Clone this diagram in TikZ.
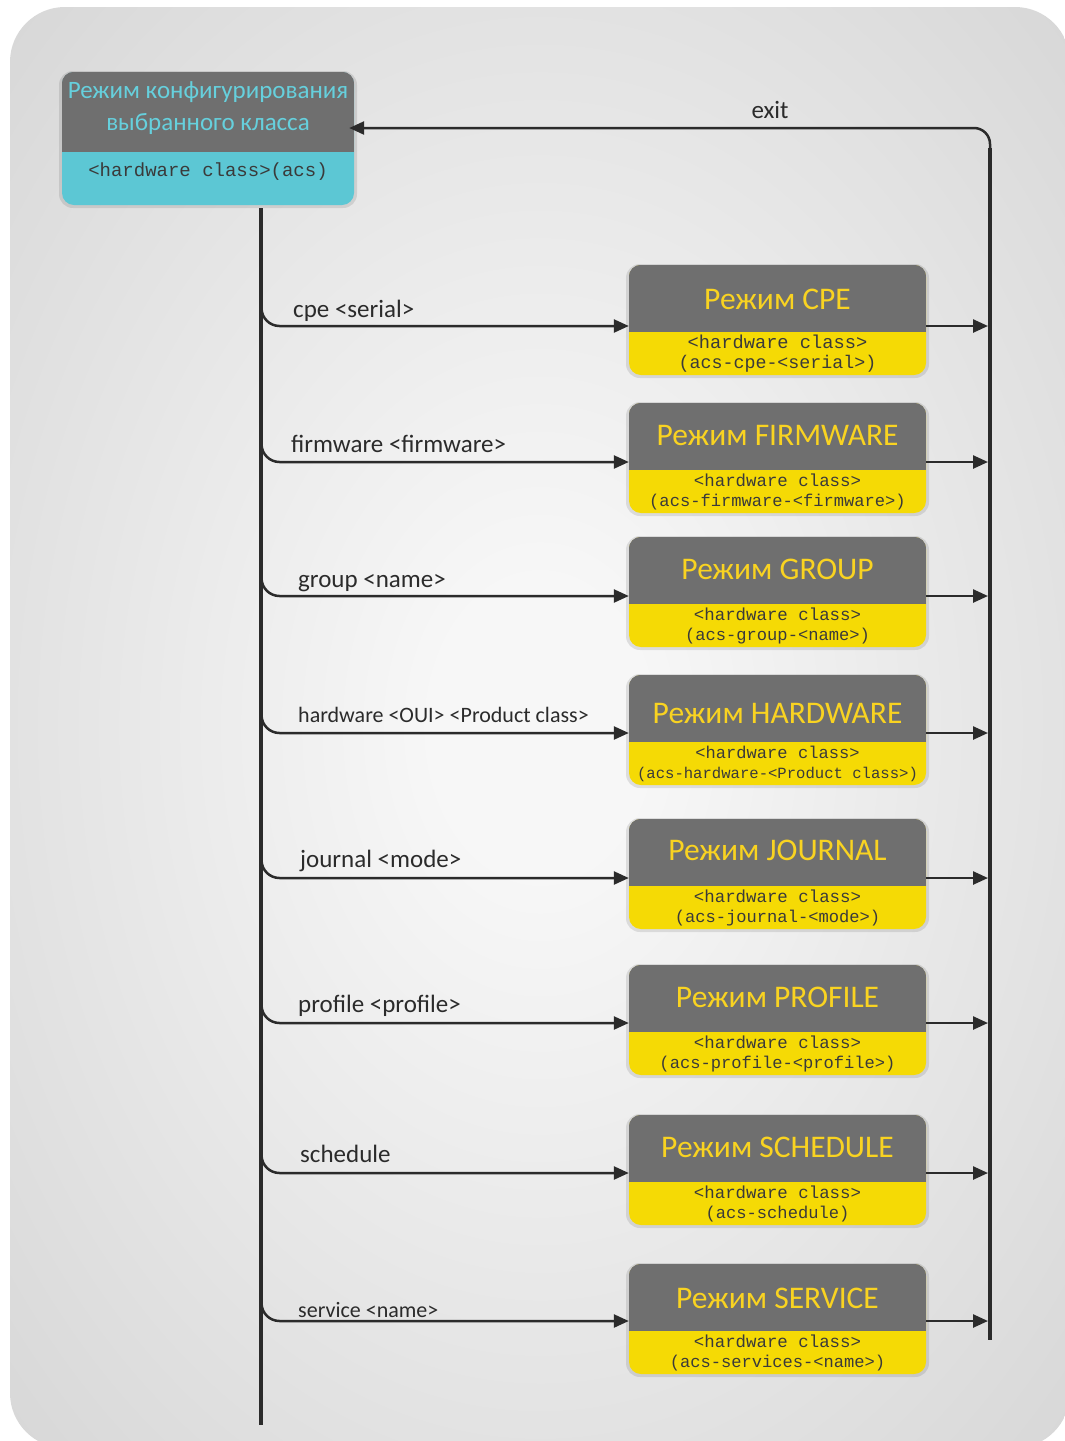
\documentclass[tikz,border=0pt]{standalone}
\usepackage{fontspec}
\setmainfont{Carlito}
\newfontfamily\monof{Liberation Mono}
\usetikzlibrary{arrows.meta}
\definecolor{bgout}{HTML}{C6C6C6}
\definecolor{bgin}{HTML}{F7F7F7}
\definecolor{boxgray}{HTML}{6F6F6F}
\definecolor{ylw}{HTML}{F5DA05}
\definecolor{ttlylw}{HTML}{F9D321}
\definecolor{cyanbox}{HTML}{5CC7D4}
\definecolor{ttlcyan}{HTML}{66D0DD}
\definecolor{ink}{HTML}{2B2B2B}
\definecolor{monoc}{HTML}{3A3A3A}
\pgfdeclareradialshading{bgshade}{\pgfpoint{0bp}{0bp}}{color(0bp)=(bgin); color(5bp)=(bgin); color(52bp)=(bgout); color(100bp)=(bgout)}
\tikzset{
  boxnode/.style={draw=none, rounded corners=12pt, inner sep=0pt},
  titletxt/.style={font=\fontsize{31.5}{36}\selectfont, text=ttlylw, inner sep=0pt},
  monotxt/.style={text=monoc, inner sep=0pt},
  lbl/.style={font=\fontsize{25}{28}\selectfont, text=ink, anchor=base west, inner sep=0pt},
  lblsmall/.style={lbl, font=\fontsize{22}{26}\selectfont},
  conn/.style={draw=ink, line width=2.5pt, -{Triangle[length=15pt,width=13pt]}},
  rail/.style={draw=ink, line width=4.5pt},
}
\newcommand\modebox[8]{%
  \fill[black,opacity=0.10,rounded corners=14pt] (626,#2-1) rectangle (929,#2+113);
  \node[boxnode, fill=ylw, minimum width=297pt, minimum height=110pt] (#1) at (777.5,#2+55) {};
  \begin{scope}
    \clip[rounded corners=12pt] (#1.south west) rectangle (#1.north east);
    \fill[boxgray] (#1.north west) rectangle ([yshift=-67pt]#1.north east);
  \end{scope}
  \node[titletxt] (#1t) at (777.5,#4) {Режим #3};
  \node[monotxt, font=\monof\fontsize{#6}{#6}\selectfont] (#1a) at (777.5,#2+77) {<hardware class>};
  \node[monotxt, font=\monof\fontsize{#7}{#7}\selectfont] (#1b) at (777.5,#2+99) {#5};
  \coordinate (#1i) at ([yshift=#2+55-#8]#1.west);
  \coordinate (#1o) at ([yshift=#2+55-#8]#1.east);
  \coordinate (#1s) at (261.5,#8-30);
  \draw[conn, rounded corners=18pt] (#1s) |- (#1i);
  \draw[conn] (#1o) -- (#1o -| rr);
}
\begin{document}
\begin{tikzpicture}[x=1pt,y=-1pt]
\useasboundingbox (0,0) rectangle (1065,1441);
\fill[white] (0,0) rectangle (1065,1441);
\shade[shading=bgshade, rounded corners=55pt] (10,7) rectangle (1070,1448);

% rails
\coordinate (mtop) at (261,208);
\coordinate (mbot) at (261,1425);
\coordinate (rtop) at (990,148);
\coordinate (rbot) at (990,1340);
\coordinate (rr) at (988,148);

% top box
\fill[black,opacity=0.10,rounded corners=14pt] (59,71) rectangle (357,208);
\node[boxnode, fill=cyanbox, minimum width=292pt, minimum height=133pt] (topbox) at (208,138.5) {};
\begin{scope}
  \clip[rounded corners=12pt] (topbox.south west) rectangle (topbox.north east);
  \fill[boxgray] (topbox.north west) rectangle ([yshift=-80pt]topbox.north east);
\end{scope}
\node[inner sep=0pt, align=center, text=ttlcyan, font=\fontsize{25}{32}\selectfont] (toptitle) at (208,108) {Режим конфигурирования\\выбранного класса};
\node[monotxt, font=\monof\fontsize{19}{19}\selectfont] (topmono) at (208,172) {<hardware class>(acs)};

\draw[rail] (mtop) -- (mbot);
\draw[rail] (rtop) -- (rbot);

\coordinate (ex) at ([yshift=10.5pt,xshift=-5pt]topbox.east);
\draw[conn, rounded corners=16pt] ([yshift=-4pt]rtop) |- (ex);
\node[lbl, anchor=base] (exitl) at (770,118) {exit};

\modebox{cpe}{265}{CPE}{299}{(acs-cpe-<serial>)}{18.7}{18.3}{326}
\modebox{fw}{403}{FIRMWARE}{435}{(acs-firmware-<firmware>)}{17.4}{17.1}{462}
\modebox{grp}{537}{GROUP}{569}{(acs-group-<name>)}{17.4}{17.1}{596}
\modebox{hw}{675}{HARDWARE}{713}{(acs-hardware-<Product class>)}{17.1}{15.6}{733}
\modebox{jr}{819}{JOURNAL}{850}{(acs-journal-<mode>)}{17.4}{17.1}{878}
\modebox{pr}{965}{PROFILE}{997}{(acs-profile-<profile>)}{17.4}{17.1}{1023}
\modebox{sch}{1115}{SCHEDULE}{1147}{(acs-schedule)}{17.4}{17.1}{1173}
\modebox{srv}{1264}{SERVICE}{1298}{(acs-services-<name>)}{17.4}{17.1}{1321}

\node[lbl] (l1) at (293,317) {cpe <serial>};
\node[lbl] (l2) at (291,452) {firmware <firmware>};
\node[lbl] (l3) at (298,587) {group <name>};
\node[lblsmall] (l4) at (298,722) {hardware <OUI> <Product class>};
\node[lbl] (l5) at (300,867) {journal <mode>};
\node[lbl] (l6) at (298,1012) {profile <profile>};
\node[lbl] (l7) at (300,1162) {schedule};
\node[lblsmall] (l8) at (298,1317) {service <name>};
\end{tikzpicture}
\end{document}
